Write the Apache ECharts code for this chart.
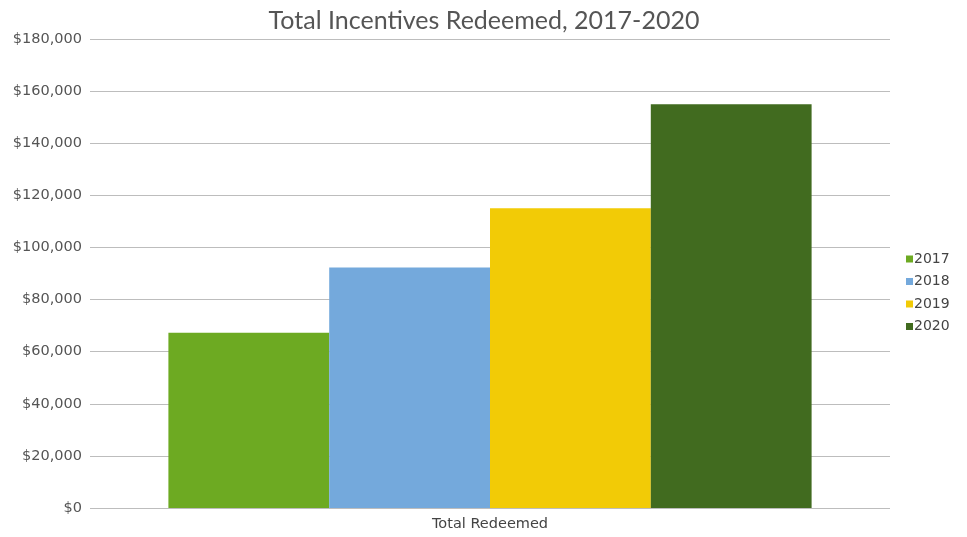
<!DOCTYPE html>
<html>
<head>
<meta charset="utf-8">
<script src="https://cdn.jsdelivr.net/npm/echarts@6/dist/echarts.min.js"></script>
<style>
html,body{margin:0;padding:0;background:#fff;}
#chart{width:967px;height:537px;}
</style>
</head>
<body>
<div id="chart"></div>
<script>
const categories = ['Total Redeemed'];
const seriesNames = ['2017', '2018', '2019', '2020'];
const values2017 = [67300];
const values2018 = [92300];
const values2019 = [115000];
const values2020 = [155000];
const yTicks = [0, 20000, 40000, 60000, 80000, 100000, 120000, 140000, 160000, 180000];

const colors = ['#6DAA22', '#74A9DC', '#F2CB06', '#416B1F'];
const allValues = [values2017, values2018, values2019, values2020];

const chart = echarts.init(document.getElementById('chart'));
const font = 'Lato, "Open Sans", sans-serif';
const wide = '"DejaVu Sans", sans-serif';
chart.setOption({
  animation: false,
  title: {
    text: 'Total Incentives Redeemed, 2017-2020',
    left: 479, top: 3, textAlign: 'center',
    textStyle: { fontFamily: font, fontSize: 25, fontWeight: 'normal', color: '#555' }
  },
  legend: {
    orient: 'vertical', left: 901, top: 247,
    itemWidth: 7, itemHeight: 7, itemGap: 8.5,
    icon: 'rect',
    textStyle: { fontFamily: wide, fontSize: 14, color: '#444', padding: [0,0,0,-4] },
    data: seriesNames
  },
  grid: { left: 90, right: 77, top: 39, bottom: 29 },
  xAxis: {
    type: 'category', data: categories,
    axisLine: { show: false }, axisTick: { show: false },
    axisLabel: { fontFamily: wide, fontSize: 14.5, color: '#444', margin: 9 }
  },
  yAxis: {
    type: 'value', min: yTicks[0], max: yTicks[yTicks.length - 1], interval: 20000,
    axisLine: { show: false }, axisTick: { show: false },
    splitLine: { lineStyle: { color: '#bdbdbd', width: 1 } },
    axisLabel: {
      fontFamily: wide, fontSize: 14.5, color: '#555', margin: 8,
      formatter: v => '$' + v.toLocaleString('en-US')
    }
  },
  series: seriesNames.map((n, i) => ({
    name: n, type: 'bar', data: allValues[i],
    barGap: '0%', barCategoryGap: '19.6%',
    itemStyle: { color: colors[i] }
  }))
});
</script>
</body>
</html>
